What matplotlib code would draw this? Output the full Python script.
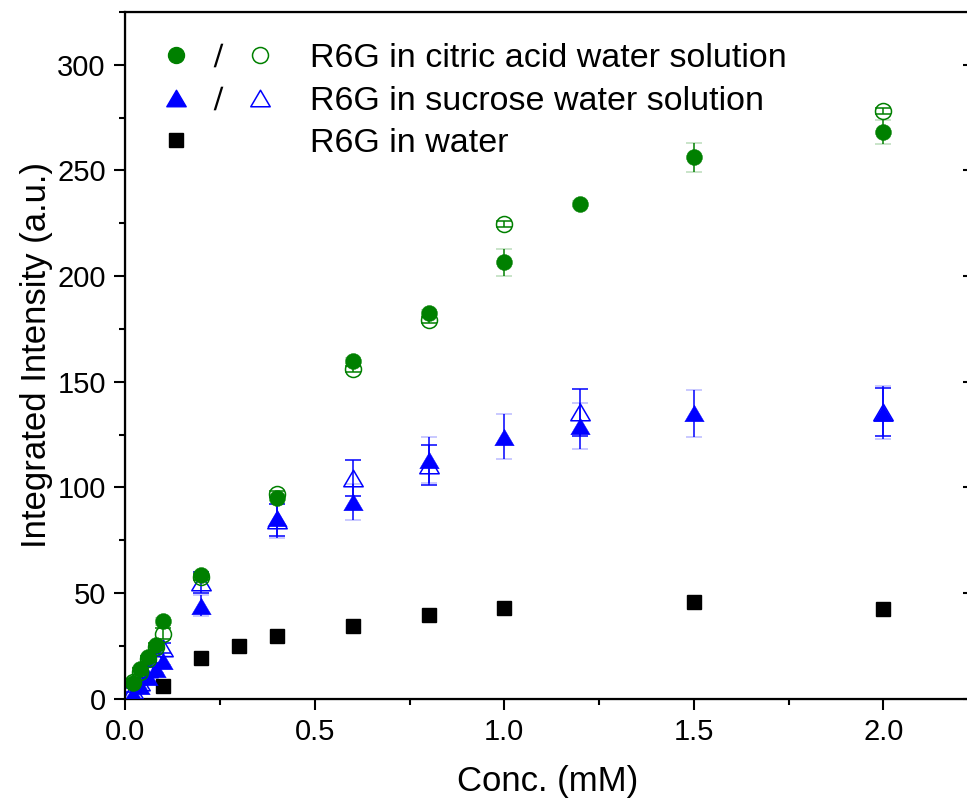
import matplotlib
matplotlib.use("Agg")
import matplotlib.pyplot as plt
from matplotlib.lines import Line2D
from matplotlib.path import Path
from matplotlib.legend_handler import HandlerTuple
from matplotlib.ticker import MultipleLocator, NullLocator

plt.rcParams["font.family"] = ["Liberation Sans", "DejaVu Sans"]

# R6G in citric acid water solution (filled / open)
citric_filled_x = [0.02, 0.04, 0.06, 0.08, 0.1, 0.2, 0.4, 0.6, 0.8, 1.0, 1.2, 1.5, 2.0]
citric_filled_y = [7.3, 14.0, 19.5, 25.5, 36.5, 58.5, 95.0, 159.7, 182.5, 206.6, 234.1, 256.2, 268.1]
citric_filled_err = [1.0, 1.0, 1.0, 1.0, 1.5, 1.5, 1.5, 1.5, 1.5, 6.4, 1.5, 6.8, 5.7]

citric_open_x = [0.02, 0.04, 0.06, 0.08, 0.1, 0.2, 0.4, 0.6, 0.8, 1.0, 2.0]
citric_open_y = [7.7, 12.8, 18.8, 24.6, 30.8, 57.5, 97.0, 155.9, 179.1, 224.6, 278.2]
citric_open_err = [1.5, 1.5, 1.5, 1.5, 2.5, 1.5, 1.5, 1.5, 1.5, 1.6, 1.4]

# R6G in sucrose water solution (filled / open)
sucrose_filled_x = [0.02, 0.04, 0.06, 0.08, 0.1, 0.2, 0.4, 0.6, 0.8, 1.0, 1.2, 1.5, 2.0]
sucrose_filled_y = [2.0, 6.0, 10.0, 14.0, 18.0, 44.0, 85.5, 93.0, 113.0, 124.0, 129.0, 135.1, 135.4]
sucrose_filled_err = [1.0, 1.0, 1.5, 2.0, 2.0, 5.0, 9.6, 8.4, 11.0, 10.5, 10.8, 11.2, 12.6]

sucrose_open_x = [0.02, 0.04, 0.06, 0.08, 0.1, 0.2, 0.4, 0.6, 0.8, 1.2, 2.0]
sucrose_open_y = [4.0, 8.0, 14.0, 19.0, 24.0, 55.0, 84.5, 104.3, 110.5, 135.5, 135.7]
sucrose_open_err = [1.0, 1.5, 2.0, 2.0, 2.5, 5.1, 7.7, 8.5, 9.4, 11.2, 11.5]

# R6G in water
water_x = [0.1, 0.2, 0.3, 0.4, 0.6, 0.8, 1.0, 1.5, 2.0]
water_y = [6.2, 19.4, 25.0, 29.4, 34.6, 39.8, 42.7, 45.5, 42.2]

labels = [
    "R6G in citric acid water solution",
    "R6G in sucrose water solution",
    "R6G in water",
]

GREEN = "#008000"
BLUE = "#0000ff"
# Origin-style triangle: a bit wider than tall
TRI = Path([(0, 0.85), (-1, -0.85), (1, -0.85), (0, 0.85)],
           [Path.MOVETO, Path.LINETO, Path.LINETO, Path.CLOSEPOLY])

fig = plt.figure(figsize=(9.67, 8.05), dpi=100)
ax = fig.add_axes([125.3 / 967, 1 - 698.6 / 805, 2.23 * 379 / 967, 686.6 / 805])

err_kw = dict(linestyle="none", capsize=5.5, elinewidth=1.1, capthick=1.1)

ax.plot(water_x, water_y, "s", color="black", ms=10, zorder=3)

ax.errorbar(sucrose_open_x, sucrose_open_y, yerr=sucrose_open_err, marker=TRI, ms=14,
            mfc="none", mec=BLUE, mew=1.1, ecolor=BLUE, zorder=4, **err_kw)
ax.errorbar(sucrose_filled_x, sucrose_filled_y, yerr=sucrose_filled_err, marker=TRI, ms=14,
            color=BLUE, mew=0.3, ecolor=BLUE, zorder=5, **err_kw)
ax.errorbar(citric_open_x, citric_open_y, yerr=citric_open_err, marker="o", ms=11.5,
            mfc="none", mec=GREEN, mew=1.1, ecolor=GREEN, zorder=6, **err_kw)
ax.errorbar(citric_filled_x, citric_filled_y, yerr=citric_filled_err, marker="o", ms=11.5,
            color=GREEN, mew=0.3, ecolor=GREEN, zorder=7, **err_kw)

ax.set_xlim(0, 2.23)
ax.set_ylim(0, 325)
ax.xaxis.set_major_locator(MultipleLocator(0.5))
ax.xaxis.set_minor_locator(MultipleLocator(0.25))
ax.yaxis.set_major_locator(MultipleLocator(50))
ax.yaxis.set_minor_locator(MultipleLocator(25))
ax.set_xticks([0, 0.5, 1.0, 1.5, 2.0])
ax.set_xticklabels(["0.0", "0.5", "1.0", "1.5", "2.0"])

ax.tick_params(which="both", direction="out", width=1.5, labelsize=21, pad=6)
ax.tick_params(which="major", length=8)
ax.tick_params(which="minor", length=4)
for side in ["left", "bottom", "top", "right"]:
    ax.spines[side].set_linewidth(1.6)

# right axis: inward major ticks only (spine sits just past the image edge)
ax2 = ax.twinx()
ax2.set_ylim(ax.get_ylim())
ax2.yaxis.set_major_locator(MultipleLocator(50))
ax2.yaxis.set_minor_locator(NullLocator())
ax2.tick_params(axis="y", direction="in", length=5, width=1.5, labelright=False)
ax2.spines["right"].set_linewidth(1.6)

ax.set_xlabel("Conc. (mM)", fontsize=25)
ax.set_ylabel("Integrated Intensity (a.u.)", fontsize=25)
ax.xaxis.set_label_coords(0.5, -0.097)
ax.yaxis.set_label_coords(-0.086, 0.5)

blank = Line2D([], [], linestyle="none", marker="none")
slash = Line2D([], [], linestyle="none", marker="$/$", color="black", ms=17, mew=0)
handles = [
    (Line2D([], [], linestyle="none", marker="o", color=GREEN, ms=11.5), slash,
     Line2D([], [], linestyle="none", marker="o", mfc="none", mec=GREEN, mew=1.1, ms=11.5)),
    (Line2D([], [], linestyle="none", marker=TRI, color=BLUE, ms=14), slash,
     Line2D([], [], linestyle="none", marker=TRI, mfc="none", mec=BLUE, mew=1.1, ms=14)),
    (Line2D([], [], linestyle="none", marker="s", color="black", ms=10), blank, blank),
]
ax.legend(handles, labels, handler_map={tuple: HandlerTuple(ndivide=None, pad=0)},
          loc="upper left", bbox_to_anchor=(155 / 967, 1 - 43 / 805),
          bbox_transform=fig.transFigure, frameon=False, fontsize=24.5,
          numpoints=1, handlelength=3.7, handletextpad=0.85, borderpad=0,
          borderaxespad=0, labelspacing=0.34)

fig.savefig("out.png", dpi=100)
